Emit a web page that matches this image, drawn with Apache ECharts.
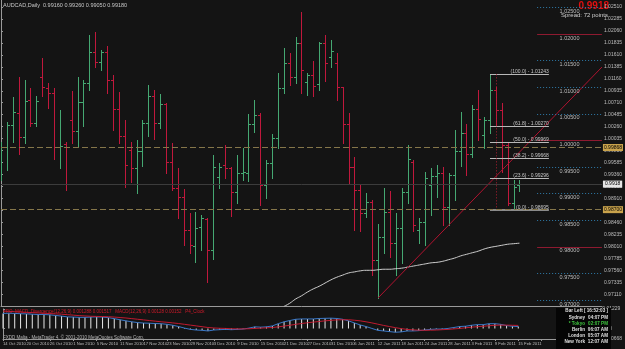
<!DOCTYPE html>
<html>
<head>
<meta charset="utf-8">
<script src="https://cdn.jsdelivr.net/npm/echarts@6/dist/echarts.min.js"></script>
<style>
  html, body { margin: 0; padding: 0; background: #141414; }
  #chart { width: 625px; height: 349px; }
</style>
</head>
<body>
<div id="chart"></div>
<script>
// AUDCAD daily, 14 Oct 2010 .. 15 Feb 2011 (one entry per trading day)
const dates = [
  '14 Oct 2010','15 Oct 2010','18 Oct 2010','19 Oct 2010','20 Oct 2010','21 Oct 2010','22 Oct 2010','25 Oct 2010','26 Oct 2010','27 Oct 2010',
  '28 Oct 2010','29 Oct 2010','1 Nov 2010','2 Nov 2010','3 Nov 2010','4 Nov 2010','5 Nov 2010','8 Nov 2010','9 Nov 2010','10 Nov 2010',
  '11 Nov 2010','12 Nov 2010','15 Nov 2010','16 Nov 2010','17 Nov 2010','18 Nov 2010','19 Nov 2010','22 Nov 2010','23 Nov 2010','24 Nov 2010',
  '25 Nov 2010','26 Nov 2010','29 Nov 2010','30 Nov 2010','1 Dec 2010','2 Dec 2010','3 Dec 2010','6 Dec 2010','7 Dec 2010','8 Dec 2010',
  '9 Dec 2010','10 Dec 2010','13 Dec 2010','14 Dec 2010','15 Dec 2010','16 Dec 2010','17 Dec 2010','20 Dec 2010','21 Dec 2010','22 Dec 2010',
  '23 Dec 2010','24 Dec 2010','27 Dec 2010','28 Dec 2010','29 Dec 2010','30 Dec 2010','31 Dec 2010','3 Jan 2011','4 Jan 2011','5 Jan 2011',
  '6 Jan 2011','7 Jan 2011','10 Jan 2011','11 Jan 2011','12 Jan 2011','13 Jan 2011','14 Jan 2011','17 Jan 2011','18 Jan 2011','19 Jan 2011',
  '20 Jan 2011','21 Jan 2011','24 Jan 2011','25 Jan 2011','26 Jan 2011','27 Jan 2011','28 Jan 2011','31 Jan 2011','1 Feb 2011','2 Feb 2011',
  '3 Feb 2011','4 Feb 2011','7 Feb 2011','8 Feb 2011','9 Feb 2011','10 Feb 2011','11 Feb 2011','14 Feb 2011','15 Feb 2011'
];

const opens = [
  0.9979,0.9987,1.0029,1.0052,1.0006,1.0076,1.0032,1.0119,1.0098,1.0089,
  0.9987,0.9993,1.0038,1.0018,1.0073,1.0109,1.0166,1.0147,1.0166,1.0114,
  1.0059,1.0008,0.9982,0.9948,0.9981,1.0033,1.0084,1.0032,1.0069,0.9960,
  0.9911,0.9894,0.9832,0.9802,0.9838,0.9852,0.9794,0.9932,0.9954,0.9948,
  0.9904,0.9938,0.9938,1.0031,1.0048,0.9916,0.9958,1.0004,1.0098,1.0145,
  1.0119,1.0183,1.0110,1.0123,1.0107,1.0183,1.0157,1.0146,1.0101,1.0031,
  0.9951,0.9907,0.9863,0.9885,0.9775,0.9819,0.9866,0.9807,0.9835,0.9903,
  0.9959,0.9832,0.9847,0.9916,0.9933,0.9939,0.9875,0.9935,0.9980,1.0014,
  0.9975,1.0059,1.0010,1.0038,1.0095,1.0057,0.9991,0.9882,0.9916
];
const highs = [
  0.9998,1.0035,1.0081,1.0120,1.0114,1.0098,1.0084,1.0155,1.0109,1.0099,
  1.0057,0.9998,1.0093,1.0120,1.0114,1.0198,1.0204,1.0170,1.0178,1.0123,
  1.0092,1.0038,0.9998,1.0000,1.0038,1.0104,1.0094,1.0087,1.0071,0.9996,
  0.9948,0.9908,0.9863,0.9866,0.9860,0.9854,0.9973,0.9957,0.9991,0.9951,
  0.9973,0.9985,1.0050,1.0076,1.0051,0.9963,1.0012,1.0126,1.0173,1.0165,
  1.0194,1.0241,1.0126,1.0150,1.0186,1.0198,1.0188,1.0164,1.0101,1.0051,
  0.9969,0.9919,0.9901,0.9889,0.9843,0.9911,0.9905,0.9864,0.9911,0.9991,
  0.9963,0.9854,0.9941,0.9948,0.9954,0.9950,0.9939,1.0020,1.0053,1.0031,
  1.0067,1.0095,1.0044,1.0125,1.0100,1.0070,0.9997,0.9926,0.9926
];
const lows = [
  0.9926,0.9944,0.9998,0.9975,0.9996,1.0028,1.0028,1.0084,1.0062,0.9965,
  0.9948,0.9907,0.9996,0.9987,1.0028,1.0095,1.0138,1.0132,1.0089,1.0020,
  0.9996,0.9913,0.9922,0.9901,0.9952,1.0008,1.0002,1.0023,0.9938,0.9907,
  0.9854,0.9803,0.9789,0.9772,0.9794,0.9734,0.9778,0.9910,0.9929,0.9858,
  0.9883,0.9926,0.9924,1.0016,0.9879,0.9891,0.9929,0.9986,1.0090,1.0104,
  1.0109,1.0090,1.0085,1.0084,1.0095,1.0112,1.0138,1.0076,0.9996,0.9921,
  0.9832,0.9830,0.9857,0.9747,0.9704,0.9788,0.9781,0.9747,0.9770,0.9882,
  0.9830,0.9807,0.9803,0.9860,0.9894,0.9841,0.9841,0.9888,0.9952,0.9935,
  0.9969,1.0001,0.9986,1.0014,1.0029,0.9941,0.9879,0.9869,0.9905
];
const closes = [
  0.9987,1.0029,1.0054,1.0006,1.0074,1.0032,1.0074,1.0100,1.0089,0.9987,
  0.9990,0.9987,1.0018,1.0073,1.0109,1.0166,1.0147,1.0166,1.0114,1.0059,
  1.0008,0.9954,0.9948,0.9981,1.0033,1.0084,1.0032,1.0069,0.9960,0.9911,
  0.9894,0.9832,0.9803,0.9835,0.9855,0.9794,0.9951,0.9951,0.9948,0.9904,
  0.9938,0.9941,1.0031,1.0048,0.9916,0.9958,1.0004,1.0098,1.0145,1.0119,
  1.0183,1.0132,1.0123,1.0102,1.0183,1.0145,1.0169,1.0101,1.0031,0.9951,
  0.9907,0.9863,0.9885,0.9775,0.9819,0.9866,0.9807,0.9835,0.9903,0.9965,
  0.9841,0.9847,0.9929,0.9933,0.9939,0.9875,0.9935,0.9980,1.0014,0.9975,
  1.0059,1.0040,1.0038,1.0095,1.0057,0.9991,0.9882,0.9912,0.9918
];

// long moving average, visible from bar 48 on
const maStart = 48;
const maValues = [
  0.9688,0.9694,0.9702,0.9708,0.9715,0.9721,0.9726,0.9732,0.9738,0.9743,
  0.9747,0.9751,0.9753,0.9755,0.9756,0.9756,0.9757,0.9758,0.9758,0.9759,
  0.9760,0.9762,0.9764,0.9766,0.9768,0.9770,0.9771,0.9773,0.9776,0.9779,
  0.9783,0.9786,0.9789,0.9792,0.9796,0.9799,0.9801,0.9803,0.9805,0.9806,0.9807
];

// MACD window
const macdMain = [
  0.0095,0.0096,0.0095,0.0093,0.0092,0.0090, 0.0088,0.0088,0.0086,0.0082,0.0078,0.0073,
  0.0072,0.0070,0.0070,0.0072,0.0073,0.0072, 0.0068,0.0062,0.0055,0.0048,0.0042,0.0037,
  0.0034,0.0033,0.0031,0.0030,0.0026,0.0020, 0.0012,0.0002,-0.0006,-0.0010,-0.0012,-0.0016,
  -0.0010,-0.0008,-0.0006,-0.0008,-0.0006,-0.0004, 0.0002,0.0010,0.0008,0.0010,0.0016,0.0030,
  0.0042,0.0050,0.0058,0.0060,0.0060,0.0060, 0.0063,0.0064,0.0065,0.0063,0.0058,0.0048,
  0.0035,0.0022,0.0012,0.0000,-0.0012,-0.0016, -0.0020,-0.0024,-0.0022,-0.0016,-0.0016,-0.0014,
  -0.0010,-0.0006,-0.0004,-0.0004,0.0000,0.0006, 0.0012,0.0014,0.0020,0.0024,0.0024,0.0030,
  0.0030,0.0026,0.0018,0.0014,0.0012
];
const macdSignal = [
  0.0110,0.0108,0.0106,0.0104,0.0102,0.0100,0.0098,0.0096,0.0094,0.0092,0.0090,0.0087,
  0.0084,0.0081,0.0079,0.0077,0.0076,0.0075,0.0074,0.0072,0.0069,0.0066,0.0062,0.0058,
  0.0054,0.0050,0.0046,0.0042,0.0039,0.0035,0.0031,0.0026,0.0021,0.0016,0.0011,0.0006,
  0.0003,0.0001,0.0000,-0.0002,-0.0003,-0.0003,-0.0002,0.0000,0.0002,0.0004,0.0006,0.0010,
  0.0015,0.0020,0.0026,0.0031,0.0036,0.0040,0.0044,0.0048,0.0051,0.0054,0.0055,0.0055,
  0.0052,0.0048,0.0042,0.0035,0.0027,0.0019,0.0012,0.0005,-0.0001,-0.0006,-0.0009,-0.0011,
  -0.0012,-0.0011,-0.0010,-0.0008,-0.0006,-0.0003,0.0000,0.0004,0.0008,0.0011,0.0014,0.0017,
  0.0020,0.0021,0.0021,0.0020,0.0019
];
const macdTicks = [0.01229, 0, -0.00668];

// price scale labels on the right
const priceTicks = [
  1.02510,1.02285,1.02060,1.01835,1.01610,1.01385,1.01160,1.00935,1.00710,1.00485,
  1.00260,1.00035,0.99810,0.99585,0.99360,0.99135,0.98910,0.98685,0.98460,0.98235,
  0.98010,0.97785,0.97560,0.97335,0.97110,0.96885
];

// drawn objects
const roundLevels = [1.025,1.020,1.015,1.010,1.005,1.000,0.995,0.990,0.985,0.980,0.975,0.970];
const redLevels = [1.020, 1.000, 0.980];
const hLines = [0.99868, 0.98700];
const bidPrice = 0.9918;
const fibHigh = 1.01243, fibLow = 0.98695;
const fibRatios = [100.0, 61.8, 50.0, 38.2, 23.6, 0.0];
const fibValues = [1.01243, 1.00270, 0.99969, 0.99668, 0.99296, 0.98695];
const trendStart = [64, 0.9704], trendEnd = [102, 1.0138];

// session clock box
const clockRows = [
  ['Sydney', '04:07 PM', '#e0e0e0'],
  ['* Tokyo', '02:07 PM', '#3ec43e'],
  ['Berlin', '06:07 AM', '#e0e0e0'],
  ['London', '05:07 AM', '#e0e0e0'],
  ['New York', '12:07 AM', '#e0e0e0']
];

const UP = '#45a872', DOWN = '#c0183c';
const FONT = 'Liberation Sans';

const chart = echarts.init(document.getElementById('chart'));

function renderBar(params, api) {
  const i = api.value(0);
  const o = api.coord([i, api.value(1)]);
  const c = api.coord([i, api.value(2)]);
  const l = api.coord([i, api.value(3)]);
  const h = api.coord([i, api.value(4)]);
  const x = Math.round(h[0]) + 0.5;
  const color = api.value(2) >= api.value(1) ? UP : DOWN;
  const st = { stroke: color, lineWidth: 1 };
  const oy = Math.round(o[1]) + 0.5, cy = Math.round(c[1]) + 0.5;
  return {
    type: 'group',
    children: [
      { type: 'line', shape: { x1: x, y1: Math.round(h[1]), x2: x, y2: Math.round(l[1]) + 1 }, style: st },
      { type: 'line', shape: { x1: x - 2.5, y1: oy, x2: x, y2: oy }, style: st },
      { type: 'line', shape: { x1: x, y1: cy, x2: x + 2.5, y2: cy }, style: st }
    ]
  };
}

const barData = dates.map((d, i) => [i, opens[i], closes[i], lows[i], highs[i]]);

const levelLines = roundLevels.map(v => {
  const red = redLevels.includes(v);
  return [
    {
      coord: [91, v],
      lineStyle: red ? { color: '#8e1a30', type: 'solid', width: 1 } : { color: '#2f7aa8', type: [1, 2], width: 1 },
      label: { show: true, position: 'insideMiddleBottom', formatter: v.toFixed(5), color: '#bdbdbd', fontSize: 5.5, fontFamily: FONT, distance: 1 }
    },
    { coord: [102, v] }
  ];
});

const fibLines = fibValues.map((v, k) => [
  {
    coord: [83, v],
    lineStyle: { color: k === fibValues.length - 1 ? '#8a8a8a' : '#b8b8b8', type: 'solid', width: k === fibValues.length - 1 ? 2 : 1 },
    label: { show: true, position: 'insideEndTop', formatter: '(' + fibRatios[k].toFixed(1) + ') - ' + v.toFixed(5), color: '#c8c8c8', fontSize: 5, fontFamily: FONT, distance: 0 }
  },
  { coord: [93, v] }
]);

const clockText = [];
clockRows.forEach((r, k) => {
  clockText.push({ type: 'text', x: 585, y: 318 + k * 6, z: 11, style: { text: r[0], fill: r[2], fontSize: 4.6, fontWeight: 'bold', fontFamily: FONT, align: 'right', verticalAlign: 'middle' } });
  clockText.push({ type: 'text', x: 608, y: 318 + k * 6, z: 11, style: { text: r[1], fill: r[2], fontSize: 4.6, fontWeight: 'bold', fontFamily: FONT, align: 'right', verticalAlign: 'middle' } });
});

const option = {
  backgroundColor: '#141414',
  animation: false,
  textStyle: { fontFamily: FONT },
  grid: [
    { left: 1, right: 14, top: 0, height: 306 },
    { left: 1, right: 14, top: 309, height: 30 }
  ],
  xAxis: [
    {
      type: 'value', gridIndex: 0, min: 0, max: 102,
      axisLine: { show: true, onZero: false, lineStyle: { color: '#9a9a9a' } },
      axisTick: { show: false }, axisLabel: { show: false }, splitLine: { show: false }
    },
    {
      type: 'value', gridIndex: 1, min: 0, max: 102, interval: 4,
      axisLine: { show: true, onZero: false, lineStyle: { color: '#9a9a9a' } },
      axisTick: { show: true, length: 2, lineStyle: { color: '#9a9a9a' } },
      axisLabel: {
        show: true, fontSize: 4.2, color: '#bdbdbd', align: 'left', margin: 3,
        showMinLabel: true, showMaxLabel: false, hideOverlap: false,
        formatter: v => dates[v] || ''
      },
      splitLine: { show: false }
    }
  ],
  yAxis: [
    {
      type: 'value', gridIndex: 0, position: 'right', min: 0.96889, max: 1.02641,
      axisLine: { show: true, lineStyle: { color: '#9a9a9a' } },
      axisTick: { show: true, length: 2, customValues: priceTicks, lineStyle: { color: '#9a9a9a' } },
      axisLabel: { show: true, customValues: priceTicks, fontSize: 5, color: '#bdbdbd', margin: 2, formatter: v => v.toFixed(5) },
      splitLine: { show: false }
    },
    {
      type: 'value', gridIndex: 1, position: 'right', min: -0.00668, max: 0.01229,
      axisLine: { show: true, lineStyle: { color: '#9a9a9a' } },
      axisTick: { show: true, length: 2, customValues: macdTicks, lineStyle: { color: '#9a9a9a' } },
      axisLabel: { show: true, customValues: macdTicks, fontSize: 5, color: '#bdbdbd', margin: 2, formatter: v => v === 0 ? '0.00' : v.toFixed(5) },
      splitLine: { show: false }
    }
  ],
  series: [
    {
      // price level grid, horizontal objects and fibonacci
      type: 'line', xAxisIndex: 0, yAxisIndex: 0, data: [], silent: true,
      markLine: {
        symbol: 'none', silent: true, animation: false, precision: 6,
        data: [
          ...levelLines,
          ...fibLines,
          [
            { coord: [84, fibHigh], lineStyle: { color: '#b01e32', type: [1, 2], width: 1 }, label: { show: false } },
            { coord: [84, fibLow] }
          ],
          {
            yAxis: bidPrice,
            lineStyle: { color: '#3c3c3c', type: 'solid', width: 1 },
            label: { show: true, position: 'end', formatter: bidPrice.toFixed(4), fontSize: 5, color: '#000', backgroundColor: '#e6e6e6', padding: [1, 2], distance: 1 }
          },
          ...hLines.map(v => ({
            yAxis: v,
            lineStyle: { color: '#85764a', type: [6, 3], width: 1.2 },
            label: { show: true, position: 'end', formatter: v.toFixed(5), fontSize: 5, color: '#000', backgroundColor: '#c9a34c', padding: [1, 1], distance: 1 }
          }))
        ]
      }
    },
    {
      type: 'line', xAxisIndex: 0, yAxisIndex: 0, showSymbol: false, smooth: true,
      data: maValues.map((v, k) => [maStart + k, v]),
      lineStyle: { color: '#cfcfcf', width: 1 }
    },
    {
      type: 'line', xAxisIndex: 0, yAxisIndex: 0, showSymbol: false,
      data: [trendStart, trendEnd],
      lineStyle: { color: '#b0122f', width: 1 }
    },
    {
      type: 'custom', xAxisIndex: 0, yAxisIndex: 0, clip: true,
      renderItem: renderBar,
      data: barData,
      encode: { x: 0, y: [1, 2, 3, 4] }
    },
    {
      type: 'bar', xAxisIndex: 1, yAxisIndex: 1, barWidth: 1,
      data: macdMain.map((v, i) => [i, v]),
      itemStyle: { color: '#e8e8e8' }
    },
    {
      type: 'line', xAxisIndex: 1, yAxisIndex: 1, showSymbol: false,
      data: macdMain.map((v, i) => [i, v]),
      lineStyle: { color: '#3a78c8', width: 1 }
    },
    {
      type: 'line', xAxisIndex: 1, yAxisIndex: 1, showSymbol: false,
      data: macdSignal.map((v, i) => [i, v]),
      lineStyle: { color: '#c01a30', width: 1 }
    }
  ],
  graphic: [
    { type: 'text', left: 3, top: 2, style: { text: 'AUDCAD,Daily  0.99160 0.99260 0.99050 0.99180', fill: '#c8c8c8', fontSize: 5.5, fontFamily: FONT } },
    { type: 'text', right: 16, top: 1, style: { text: '0.9918', fill: '#e01010', fontSize: 10, fontWeight: 'bold', fontFamily: FONT } },
    { type: 'text', right: 17, top: 12, style: { text: 'Spread: 72 points', fill: '#d0d0d0', fontSize: 6, fontFamily: FONT } },
    { type: 'text', left: 3, top: 309, style: { text: 'TRO_MACD_Divergence(12,26,9) 0.001288 0.001517   MACD(12,26,9) 0.00128 0.00152   P4_Clock', fill: '#d01a2a', fontSize: 4.5, fontFamily: FONT } },
    { type: 'text', left: 3, top: 335, style: { text: 'FXDD Malta - MetaTrader 4, \u00a9 2001-2010 MetaQuotes Software Corp.', fill: '#b8b8b8', fontSize: 4.5, fontFamily: FONT } },
    { type: 'rect', x: 556, y: 308, shape: { width: 55, height: 41 }, style: { fill: '#050505' }, z: 10 },
    { type: 'text', x: 608, y: 311, z: 11, style: { text: 'Bar Left [ 16:52:03 ]', fill: '#e0e0e0', fontSize: 4.6, fontWeight: 'bold', fontFamily: FONT, align: 'right', verticalAlign: 'middle' } },
    ...clockText
  ]
};

chart.setOption(option);
</script>
</body>
</html>
